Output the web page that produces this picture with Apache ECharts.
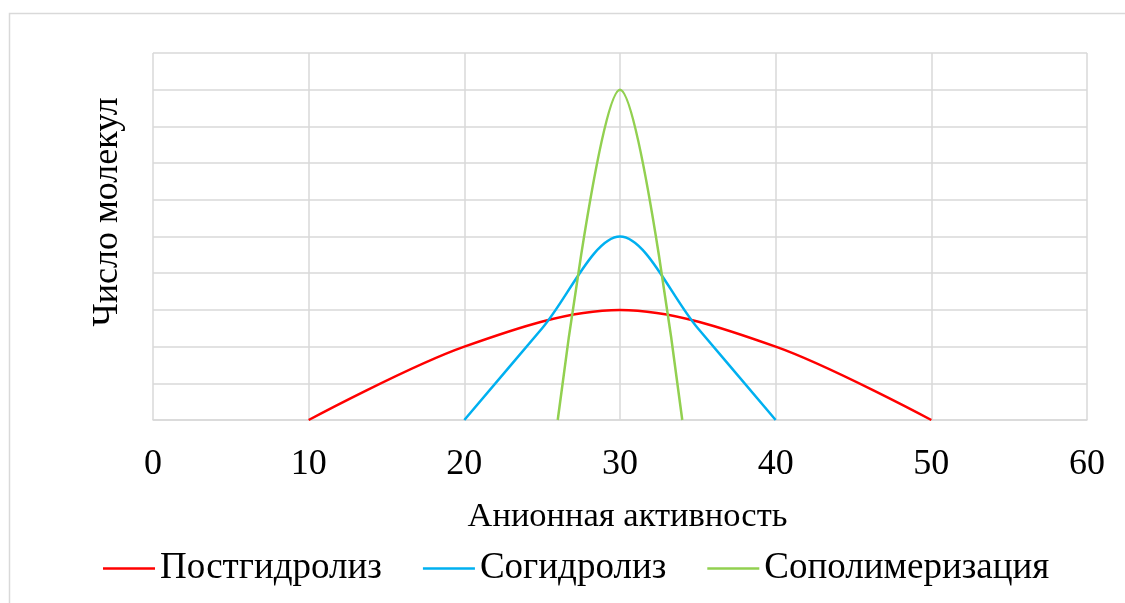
<!DOCTYPE html>
<html>
<head>
<meta charset="utf-8">
<script src="https://cdn.jsdelivr.net/npm/echarts@6/dist/echarts.min.js"></script>
<style>
html,body{margin:0;padding:0;background:#fff;}
#main{width:1125px;height:603px;}
</style>
</head>
<body>
<div id="main"></div>
<script>
const xTicks = [0, 10, 20, 30, 40, 50, 60];
const seriesNames = ['Постгидролиз', 'Согидролиз', 'Сополимеризация'];
const postX = [10, 20, 30, 40, 50];
const postY = [0, 2, 3, 2, 0];
const coX = [20, 25, 30, 35, 40];
const coY = [0, 2.5, 5, 2.5, 0];
const copolyX = [26, 30, 34];
const copolyY = [0, 9, 0];
const xTitle = 'Анионная активность';
const yTitle = 'Число молекул';

const FONT = '"Liberation Serif","Times New Roman",serif';
const pairs = (xs, ys) => xs.map((x, i) => [x, ys[i]]);
const colors = ['#ff0000', '#00b0f0', '#92d050'];
const SM = 0.33;

const chart = echarts.init(document.getElementById('main'));
chart.setOption({
  animation: false,
  backgroundColor: '#ffffff',
  grid: { left: 153, right: 38, top: 53, bottom: 183, containLabel: false },
  xAxis: {
    type: 'value', min: xTicks[0], max: xTicks[xTicks.length - 1], interval: 10,
    axisLine: { show: true, lineStyle: { color: '#d9d9d9', width: 1.5 } },
    axisTick: { show: false },
    splitLine: { show: true, lineStyle: { color: '#d9d9d9', width: 1.5 } },
    axisLabel: { color: '#000', fontFamily: FONT, fontSize: 36, margin: 27 },
    name: xTitle, nameLocation: 'middle', nameGap: 79,
    nameTextStyle: { color: '#000', fontFamily: FONT, fontSize: 34.5, padding: [0, 0, 0, 15] }
  },
  yAxis: {
    type: 'value', min: 0, max: 10, interval: 1,
    axisLine: { show: false }, axisTick: { show: false },
    axisLabel: { show: false },
    splitLine: { show: true, lineStyle: { color: '#d9d9d9', width: 1.5 } }
  },
  legend: {
    data: seriesNames, bottom: 11, left: 98,
    icon: 'rect', itemWidth: 52, itemHeight: 2.5, itemGap: 41,
    textStyle: { color: '#000', fontFamily: FONT, fontSize: 37 }
  },
  graphic: [
    { type: 'rect', shape: { x: 9.5, y: 13.5, width: 1200, height: 700 },
      style: { fill: 'none', stroke: '#d9d9d9', lineWidth: 1.5 }, silent: true, z: -10 },
    { type: 'text', x: 108, y: 212, rotation: Math.PI / 2,
      style: { text: yTitle, font: '36px ' + FONT, fill: '#000', align: 'center', verticalAlign: 'middle' } }
  ],
  series: [
    { name: seriesNames[0], type: 'line', data: pairs(postX, postY), smooth: SM, showSymbol: false,
      lineStyle: { color: colors[0], width: 2.5 }, itemStyle: { color: colors[0] } },
    { name: seriesNames[1], type: 'line', data: pairs(coX, coY), smooth: SM, showSymbol: false,
      lineStyle: { color: colors[1], width: 2.5 }, itemStyle: { color: colors[1] } },
    { name: seriesNames[2], type: 'line', data: pairs(copolyX, copolyY), smooth: SM, showSymbol: false,
      lineStyle: { color: colors[2], width: 2.5 }, itemStyle: { color: colors[2] } }
  ]
});
</script>
</body>
</html>
